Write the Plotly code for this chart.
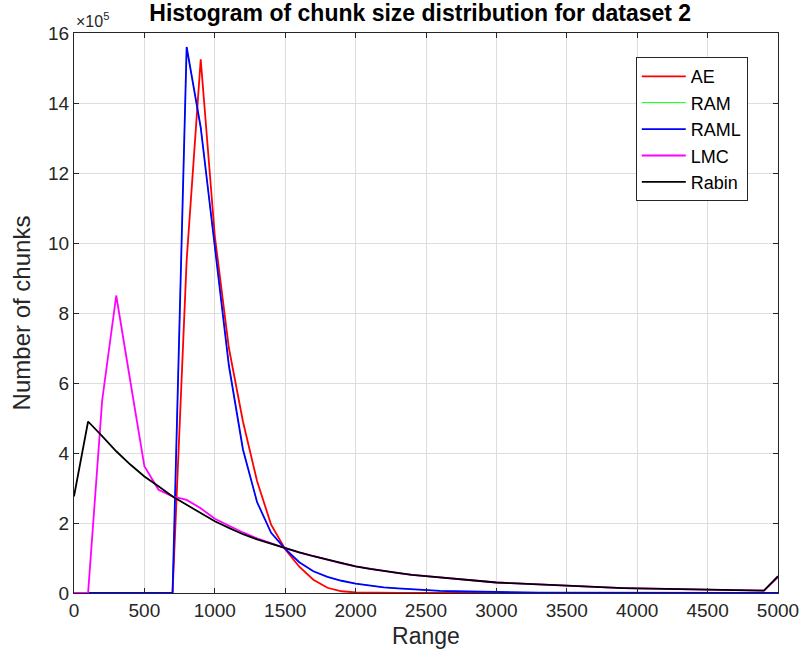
import plotly.graph_objects as go

# x bins (chunk size range)
x_range = list(range(0, 5001, 100))

# values in units of 1e5 chunks
ae = [0, 0, 0, 0, 0, 0, 0, 0, 9.5, 15.25, 10.2, 7.0, 4.9, 3.2, 1.95, 1.25, 0.75, 0.38,
      0.15, 0.05, 0.015, 0.005, 0, 0, 0, 0, 0, 0, 0, 0, 0, 0, 0, 0, 0, 0, 0, 0, 0, 0,
      0, 0, 0, 0, 0, 0, 0, 0, 0, 0, 0]
raml = [0, 0, 0, 0, 0, 0, 0, 0, 15.6, 13.3, 9.9, 6.5, 4.1, 2.6, 1.72, 1.26, 0.88, 0.62,
        0.46, 0.35, 0.27, 0.21, 0.16, 0.13, 0.1, 0.08, 0.06, 0.05, 0.04, 0.03, 0.025,
        0.02, 0.015, 0.012, 0.01, 0.008, 0.006, 0.005, 0.004, 0.003, 0.002, 0.002,
        0.001, 0.001, 0, 0, 0, 0, 0, 0, 0]
ram = list(raml)
lmc = [0, 0, 5.5, 8.5, 6.05, 3.62, 2.95, 2.76, 2.66, 2.42, 2.12, 1.92, 1.73, 1.56, 1.41,
       1.28, 1.16, 1.05, 0.95, 0.85, 0.76, 0.69, 0.63, 0.57, 0.52, 0.48, 0.44, 0.40,
       0.36, 0.33, 0.30, 0.28, 0.26, 0.24, 0.22, 0.20, 0.18, 0.17, 0.155, 0.14, 0.13,
       0.12, 0.11, 0.10, 0.095, 0.09, 0.085, 0.08, 0.075, 0.07, 0.45]
rabin = [2.76, 4.9, 4.48, 4.05, 3.67, 3.33, 3.05, 2.76, 2.52, 2.29, 2.05, 1.86, 1.68,
         1.53, 1.40, 1.28, 1.16, 1.05, 0.95, 0.85, 0.76, 0.69, 0.63, 0.57, 0.52, 0.48,
         0.44, 0.40, 0.36, 0.33, 0.30, 0.28, 0.26, 0.24, 0.22, 0.20, 0.18, 0.17, 0.155,
         0.14, 0.13, 0.12, 0.11, 0.10, 0.095, 0.09, 0.085, 0.08, 0.075, 0.07, 0.48]

series_names = ["AE", "RAM", "RAML", "LMC", "Rabin"]
series_colors = ["#FF0000", "#00FF00", "#0000FF", "#FF00FF", "#000000"]
series_widths = [1.8, 1.0, 1.8, 1.8, 1.8]
series_data = [ae, ram, raml, lmc, rabin]

x_ticks = list(range(0, 5001, 500))
y_ticks = list(range(0, 17, 2))

fig = go.Figure()
for name, color, w, vals in zip(series_names, series_colors, series_widths, series_data):
    fig.add_trace(go.Scatter(x=x_range, y=vals, mode="lines", name=name,
                             line=dict(color=color, width=w)))

font_family = "Liberation Sans, Arial, sans-serif"
axis_common = dict(showline=True, linecolor="#262626", linewidth=1, mirror="ticks",
                   ticks="inside", ticklen=5, tickcolor="#262626", automargin=False,
                   showgrid=True, gridcolor="#DEDEDE", gridwidth=1, zeroline=False,
                   tickfont=dict(family=font_family, size=19, color="#262626"))

fig.update_layout(
    width=802, height=666,
    margin=dict(l=74, r=24, t=33, b=73),
    paper_bgcolor="white", plot_bgcolor="white",
    title=dict(text="<b>Histogram of chunk size distribution for dataset 2</b>",
               x=0.524, xanchor="center", y=0.981, yanchor="middle",
               font=dict(family=font_family, size=23, color="black")),
    xaxis=dict(range=[0, 5000], tickvals=x_ticks,
               title=dict(text="Range", standoff=8,
                          font=dict(family=font_family, size=23, color="#262626")),
               **axis_common),
    yaxis=dict(range=[0, 16], tickvals=y_ticks,
               title=dict(text="Number of chunks", standoff=10,
                          font=dict(family=font_family, size=24, color="#262626")),
               **axis_common),
    legend=dict(x=0.798, y=0.957, xanchor="left", yanchor="top",
                bordercolor="#262626", borderwidth=1, bgcolor="white",
                font=dict(family=font_family, size=18, color="black"),
                itemwidth=44, tracegroupgap=0),
    showlegend=True,
)
fig.add_annotation(text="\u00d710<sup>5</sup>", xref="paper", yref="paper",
                   x=0.0, y=1.0, xanchor="left", yanchor="bottom", yshift=1,
                   showarrow=False,
                   font=dict(family=font_family, size=16, color="#262626"))

fig.write_html("out.html")
